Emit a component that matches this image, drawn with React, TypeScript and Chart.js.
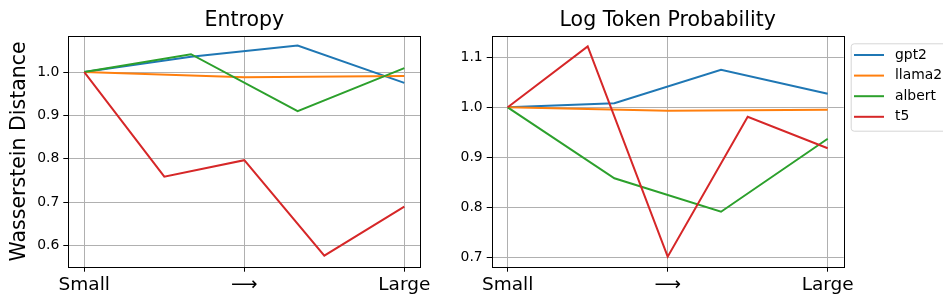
import React, { useEffect, useRef } from 'react';
import { Chart, registerables } from 'chart.js';

Chart.register(...registerables);

const FONT = "'DejaVu Sans', sans-serif";

// Series
const seriesNames = ['gpt2', 'llama2', 'albert', 't5'];
const seriesColors = ['#1f77b4', '#ff7f0e', '#2ca02c', '#d62728'];

// Entropy panel values (model sizes from small to large)
const entropyGpt2 = [1.0, 1.035, 1.061, 0.975];
const entropyLlama2 = [1.0, 0.988, 0.991];
const entropyAlbert = [1.0, 1.041, 0.91, 1.009];
const entropyT5 = [1.0, 0.759, 0.797, 0.577, 0.69];

// Log Token Probability panel values
const logprobGpt2 = [1.0, 1.008, 1.075, 1.027];
const logprobLlama2 = [1.0, 0.993, 0.995];
const logprobAlbert = [1.0, 0.858, 0.791, 0.937];
const logprobT5 = [1.0, 1.122, 0.701, 0.981, 0.918];

// Tick labels
const xTickValues = [0, 0.5, 1];
const xTickLabels = ['Small', '⟶', 'Large'];
const entropyYTicks = [0.6, 0.7, 0.8, 0.9, 1.0];
const logprobYTicks = [0.7, 0.8, 0.9, 1.0, 1.1];

const panelTitles = ['Entropy', 'Log Token Probability'];
const yAxisTitle = 'Wasserstein Distance';

function toPoints(values: number[]) {
  return values.map((v, i) => ({ x: i / (values.length - 1), y: v }));
}

const framePlugin = {
  id: 'frame',
  afterDatasetsDraw(chart: any) {
    const { ctx, chartArea } = chart;
    ctx.save();
    ctx.strokeStyle = '#000000';
    ctx.lineWidth = 1;
    ctx.strokeRect(
      Math.round(chartArea.left) + 0.5,
      Math.round(chartArea.top) + 0.5,
      Math.round(chartArea.right) - Math.round(chartArea.left),
      Math.round(chartArea.bottom) - Math.round(chartArea.top)
    );
    ctx.restore();
  },
};

const legendPlugin = {
  id: 'sideLegend',
  afterDraw(chart: any) {
    const opts = chart.options.plugins.sideLegend;
    if (!opts || !opts.show) return;
    const { ctx, chartArea } = chart;
    const x0 = chartArea.right + 7;
    const y0 = 43.3;
    const w = 100;
    const h = 87.4;
    ctx.save();
    ctx.beginPath();
    ctx.roundRect(x0 + 0.5, y0 + 0.5, w, h, 3);
    ctx.fillStyle = 'rgba(255,255,255,0.8)';
    ctx.fill();
    ctx.strokeStyle = '#d6d6d6';
    ctx.lineWidth = 1;
    ctx.stroke();
    ctx.font = `13.9px ${FONT}`;
    ctx.textBaseline = 'middle';
    ctx.textAlign = 'left';
    seriesNames.forEach((name, i) => {
      const y = y0 + 11.7 + i * 20.6;
      ctx.strokeStyle = seriesColors[i];
      ctx.lineWidth = 2;
      ctx.beginPath();
      ctx.moveTo(x0 + 3.3, y);
      ctx.lineTo(x0 + 33.3, y);
      ctx.stroke();
      ctx.fillStyle = '#000000';
      ctx.fillText(name, x0 + 44.3, y);
    });
    ctx.restore();
  },
};

function buildConfig(
  title: string,
  series: number[][],
  yMin: number,
  yMax: number,
  yTicks: number[],
  yWidth: number,
  rightPad: number,
  showYTitle: boolean,
  showLegend: boolean
): any {
  const grid = {
    color: '#b0b0b0',
    lineWidth: 1,
    tickColor: '#000000',
    tickLength: 5,
    tickWidth: 1,
  };
  return {
    type: 'line',
    data: {
      datasets: series.map((vals, i) => ({
        label: seriesNames[i],
        data: toPoints(vals),
        borderColor: seriesColors[i],
        backgroundColor: seriesColors[i],
        borderWidth: 2,
        pointRadius: 0,
        tension: 0,
        fill: false,
        order: series.length - i,
      })),
    },
    options: {
      responsive: false,
      animation: false,
      devicePixelRatio: 1,
      layout: { padding: { left: 0, right: rightPad, top: 0, bottom: 0 } },
      plugins: {
        legend: { display: false },
        tooltip: { enabled: false },
        title: {
          display: true,
          text: title,
          fullSize: false,
          color: '#000000',
          font: { family: FONT, size: 20.5, weight: 'normal', lineHeight: 1.2 },
          padding: { top: 8.7, bottom: 2.7 },
        },
        sideLegend: { show: showLegend },
      },
      scales: {
        x: {
          type: 'linear',
          min: -0.05,
          max: 1.05,
          afterBuildTicks: (s: any) => {
            s.ticks = xTickValues.map((v) => ({ value: v }));
          },
          afterFit: (s: any) => {
            s.height = 300 - 266.7;
          },
          ticks: {
            callback: (v: number) => {
              const i = xTickValues.indexOf(v);
              return i >= 0 ? xTickLabels[i] : '';
            },
            color: '#000000',
            font: { family: FONT, size: 18.5 },
            padding: 2.5,
            maxRotation: 0,
            autoSkip: false,
          },
          grid,
          border: { display: false },
        },
        y: {
          type: 'linear',
          min: yMin,
          max: yMax,
          afterBuildTicks: (s: any) => {
            s.ticks = yTicks.map((v) => ({ value: v }));
          },
          afterFit: (s: any) => {
            s.width = yWidth;
          },
          ticks: {
            callback: (v: number) => v.toFixed(1),
            color: '#000000',
            font: { family: FONT, size: 13.9 },
            padding: 4,
          },
          title: {
            display: showYTitle,
            text: yAxisTitle,
            color: '#000000',
            font: { family: FONT, size: 20.5, lineHeight: 1.2 },
            padding: { top: 7.1, bottom: 0 },
          },
          grid,
          border: { display: false },
        },
      },
    },
    plugins: [framePlugin, legendPlugin],
  };
}

export default function App() {
  const leftRef = useRef<HTMLCanvasElement>(null);
  const rightRef = useRef<HTMLCanvasElement>(null);

  useEffect(() => {
    const c1 = new Chart(
      leftRef.current as HTMLCanvasElement,
      buildConfig(
        panelTitles[0],
        [entropyGpt2, entropyLlama2, entropyAlbert, entropyT5],
        0.5516,
        1.083,
        entropyYTicks,
        68.3,
        450 - 420.3,
        true,
        false
      )
    );
    const c2 = new Chart(
      rightRef.current as HTMLCanvasElement,
      buildConfig(
        panelTitles[1],
        [logprobGpt2, logprobLlama2, logprobAlbert, logprobT5],
        0.681,
        1.1427,
        logprobYTicks,
        491.7 - 450,
        493 - (843.7 - 450),
        false,
        true
      )
    );
    return () => {
      c1.destroy();
      c2.destroy();
    };
  }, []);

  return (
    <div style={{ position: 'absolute', left: 0, top: 0, width: 943, height: 300, background: '#ffffff' }}>
      <canvas
        ref={leftRef}
        width={450}
        height={300}
        style={{ position: 'absolute', left: 0, top: 0, width: 450, height: 300 }}
      />
      <canvas
        ref={rightRef}
        width={493}
        height={300}
        style={{ position: 'absolute', left: 450, top: 0, width: 493, height: 300 }}
      />
    </div>
  );
}
